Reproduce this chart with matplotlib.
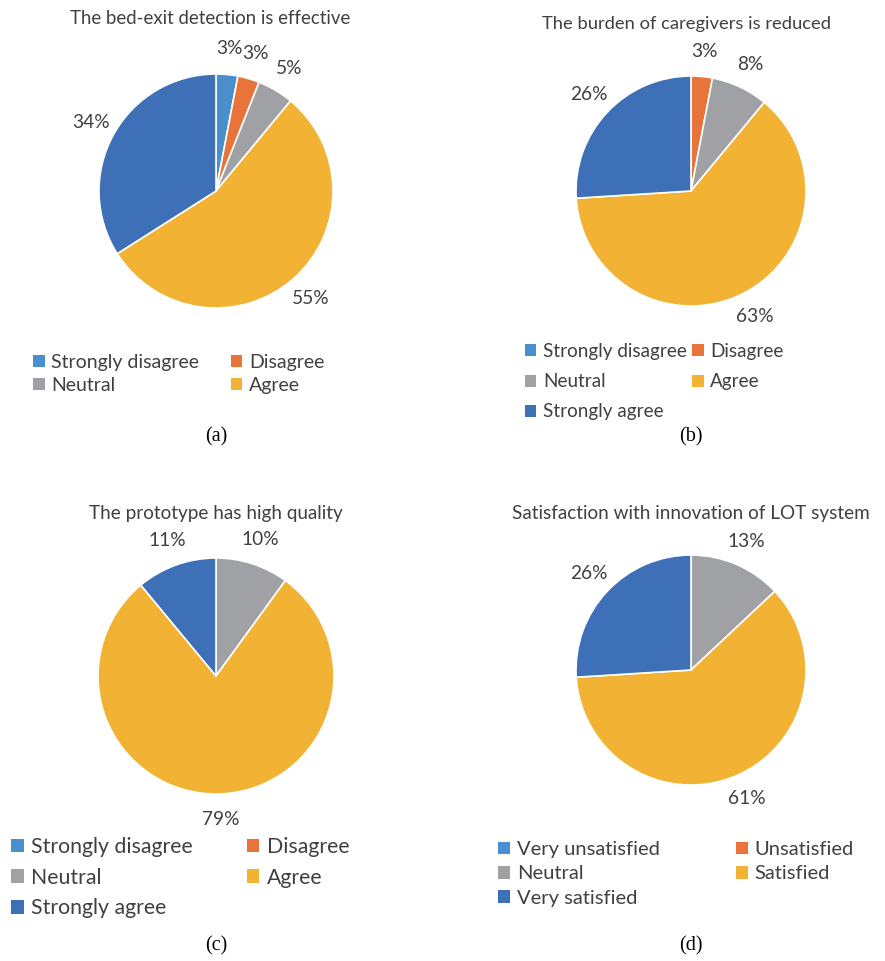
import matplotlib
matplotlib.use('Agg')
import matplotlib.pyplot as plt
from matplotlib.patches import Patch

plt.rcParams['font.family'] = ['Lato', 'DejaVu Sans']

# data (percent)
agree_labels = ['Strongly disagree', 'Disagree', 'Neutral', 'Agree', 'Strongly agree']
sat_labels = ['Very unsatisfied', 'Unsatisfied', 'Neutral', 'Satisfied', 'Very satisfied']
vals_a = [3, 3, 5, 55, 34]
vals_b = [0, 3, 8, 63, 26]
vals_c = [0, 0, 10, 79, 11]
vals_d = [0, 0, 13, 61, 26]
titles = ['The bed-exit detection is effective',
          'The burden of caregivers is reduced',
          'The prototype has high quality',
          'Satisfaction with innovation of LOT system']
captions = ['(a)', '(b)', '(c)', '(d)']

colors = ['#4a8fcd', '#e8743b', '#a0a1a5', '#f2b233', '#3d70b6']
TXT = '#404040'

W, H = 885, 961
fig = plt.figure(figsize=(W / 100, H / 100), dpi=100)


def fx(x):
    return x / W


def fy(y):
    return 1 - y / H


def pct_label(p):
    return '' if p < 0.5 else '%d%%' % round(p)


# layout in pixels: centre, radius, title pos, legend anchor, legend entries, font sizes
panels = [
    dict(vals=vals_a, labels=agree_labels[:4], c=(216, 191), r=117, title=(210, 19), tfs=13.4,
         leg=(33, 354), colsp=1.6, legfs=14, rowsp=0.3, cap=(216, 437)),
    dict(vals=vals_b, labels=agree_labels, c=(691, 191), r=115, title=(686, 24), tfs=13.2,
         leg=(525, 343), colsp=0.3, legfs=13.6, rowsp=0.7, cap=(691, 437)),
    dict(vals=vals_c, labels=agree_labels, c=(216, 676), r=118, title=(216, 514), tfs=13.6,
         leg=(11, 837), colsp=2.53, legfs=15.3, rowsp=0.5, cap=(216, 946)),
    dict(vals=vals_d, labels=sat_labels, c=(691, 670), r=115, title=(691, 513), tfs=13.6,
         leg=(498, 841), colsp=3.75, legfs=14.5, rowsp=0.37, cap=(691, 946)),
]

for i, p in enumerate(panels):
    cx, cy = p['c']
    r = p['r']
    ax = fig.add_axes([fx(cx - r), fy(cy + r), 2 * r / W, 2 * r / H])
    wedges, texts, autotexts = ax.pie(p['vals'], colors=colors, startangle=90, counterclock=False,
                                      autopct=pct_label, pctdistance=1.22,
                                      wedgeprops=dict(edgecolor='white', linewidth=1.2),
                                      textprops=dict(color=TXT, fontsize=13.8))
    ax.set_xlim(-1, 1)
    ax.set_ylim(-1, 1)
    ax.axis('off')
    for t in autotexts:
        t.set_clip_on(False)

    fig.text(fx(p['title'][0]), fy(p['title'][1]), titles[i], ha='center', va='center',
             fontsize=p['tfs'], color=TXT)
    fig.text(fx(p['cap'][0]), fy(p['cap'][1]), captions[i], ha='center', va='center',
             fontsize=14.5, family='Liberation Serif', color='black')

    # legend filled row by row, like the original
    n = len(p['labels'])
    handles = [Patch(facecolor=colors[k], edgecolor='none', label=p['labels'][k]) for k in range(n)]
    order = list(range(0, n, 2)) + list(range(1, n, 2))
    fig.legend([handles[k] for k in order], [p['labels'][k] for k in order], ncol=2,
               loc='upper left', bbox_to_anchor=(fx(p['leg'][0]), fy(p['leg'][1])),
               bbox_transform=fig.transFigure, frameon=False, borderpad=0, borderaxespad=0,
               handlelength=0.6, handleheight=0.6, handletextpad=0.35,
               columnspacing=p['colsp'], labelspacing=p['rowsp'],
               prop=dict(size=p['legfs']), labelcolor=TXT)

fig.savefig('out.png', dpi=100, facecolor='white')
